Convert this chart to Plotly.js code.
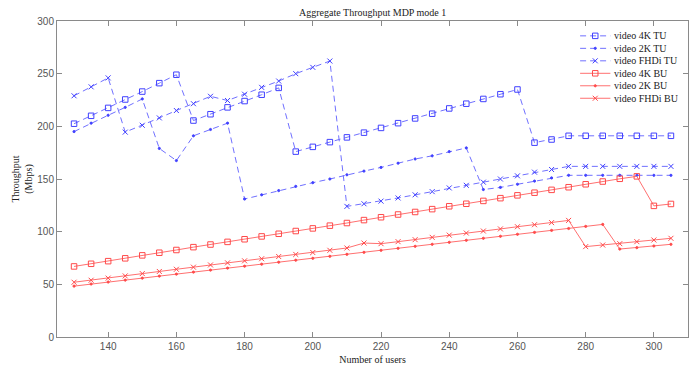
<!DOCTYPE html>
<html>
<head>
<meta charset="utf-8">
<script src="https://cdn.plot.ly/plotly-3.0.1.min.js"></script>
<style>html,body{margin:0;padding:0;background:#fff;}#chart{width:694px;height:367px;}</style>
</head>
<body>
<div id="chart"></div>
<script>
// ---- data ----
var users = [130,135,140,145,150,155,160,165,170,175,180,185,190,195,200,205,210,215,220,225,230,235,240,245,250,255,260,265,270,275,280,285,290,295,300,305];

var video4K_TU = [202.5,210,217.5,225.5,233,241,249,205.5,211.5,218,224,230,236.5,176,180.5,185,189.5,194,198.5,203,207.5,212,217,221.5,226,230.5,235,184.5,187.5,191,191,191,191,191,191,191];
var video2K_TU = [195,203,210.5,218,226,179,167.5,191,197,203,131,135,139,143,146.5,150,154,157.5,161,165,169,172,176,179.5,140,142,145,148,151,153.5,153.5,153.5,153.5,153.5,153.5,153.5];
var videoFHDi_TU = [229,237.5,246,194.5,201,208,215,221.5,228.5,224.5,230.5,237,243,250,256,262,124,126.5,129,132,135,138,141.5,144,147,150,153,156.5,159,162,162,162,162,162,162,162];
var video4K_BU = [67,69.5,72,74.7,77.5,80,82.6,85.3,87.8,90.3,92.8,95.5,98,100.6,103.1,105.7,108.2,111,113.7,116.3,118.7,121.4,124.1,126.5,129.2,131.8,134.5,137,139.7,142.2,145,147.6,150.2,152.5,124.5,126.3];
var video2K_BU = [48.3,50.3,52.2,54,55.9,57.8,59.7,61.6,63.5,65.4,67.2,69.1,71,72.9,74.7,76.6,78.5,80.4,82.3,84.2,86.1,88,89.9,91.8,93.7,95.6,97.5,99.3,101.2,103,105,106.9,83.5,84.8,86.4,88];
var videoFHDi_BU = [52,53.9,55.9,58,60.2,62.2,64.3,66.3,68.4,70.4,72.3,74.3,76.4,78.4,80.2,82.3,84.5,89.2,88.6,90.5,92.4,94.6,96.7,98.7,100.6,102.6,104.7,106.6,108.6,110.7,85.8,87.3,88.6,90.5,92.1,93.7];

var seriesNames = ['video 4K TU','video 2K TU','video FHDi TU','video 4K BU','video 2K BU','video FHDi BU'];
var seriesValues = [video4K_TU, video2K_TU, videoFHDi_TU, video4K_BU, video2K_BU, videoFHDi_BU];
var xTicks = [140,160,180,200,220,240,260,280,300];
var yTicks = [0,50,100,150,200,250,300];

// ---- styles ----
var BLUE_L = '#7070ff', BLUE_M = '#4040ff';
var RED_L = '#ff7070', RED_M = '#ff4a4a';
var DASH = '6px,4px';
var styles = [
  {lc:BLUE_L, mc:BLUE_M, dash:DASH, sym:'square-open', size:5.5},
  {lc:BLUE_L, mc:BLUE_M, dash:DASH, sym:'circle', size:2.2},
  {lc:BLUE_L, mc:BLUE_M, dash:DASH, sym:'x-thin-open', size:5},
  {lc:RED_L, mc:RED_M, dash:'solid', sym:'square-open', size:5.5},
  {lc:RED_L, mc:RED_M, dash:'solid', sym:'circle', size:2.2},
  {lc:RED_L, mc:RED_M, dash:'solid', sym:'x-thin-open', size:5}
];

var traces = [];
seriesValues.forEach(function(vals, i){
  var s = styles[i];
  traces.push({
    type:'scatter', mode:'lines+markers', name:seriesNames[i],
    x:users, y:vals, showlegend:false,
    line:{color:s.lc, width:1, dash:s.dash},
    marker:{symbol:s.sym, size:s.size, color:s.mc, line:{color:s.mc, width:1}}
  });
});

// ---- custom compact legend (drawn on hidden overlay axes in plot-fraction units) ----
var legX0 = 0.829, legX1 = 0.877, legTextX = 0.880;
var legTop = 0.953, legStep = 0.0395;
var annotations = [];
seriesNames.forEach(function(nm, i){
  var s = styles[i];
  var yy = legTop - i*legStep;
  traces.push({
    type:'scatter', mode:'lines+markers', xaxis:'x2', yaxis:'y2', showlegend:false, hoverinfo:'skip',
    x:[legX0, (legX0+legX1)/2, legX1], y:[yy,yy,yy],
    line:{color:s.lc, width:1, dash:s.dash},
    marker:{symbol:s.sym, size:s.size, color:s.mc, opacity:[0,1,0], line:{color:s.mc, width:1}}
  });
  annotations.push({
    xref:'paper', yref:'paper', x:legTextX, y:yy, xanchor:'left', yanchor:'middle',
    text:nm, showarrow:false,
    font:{family:'Liberation Serif, serif', size:10, color:'#222'}
  });
});

var axisCommon = {
  showgrid:false, zeroline:false, showline:true, linecolor:'#8a8a8a', linewidth:1,
  mirror:'ticks', ticks:'inside', ticklen:5, tickcolor:'#8a8a8a', tickwidth:1,
  tickfont:{family:'Liberation Sans, Arial, sans-serif', size:10, color:'#555'}
};

var layout = {
  width:694, height:367,
  margin:{l:57, r:6, t:21, b:30, pad:0},
  paper_bgcolor:'#fff', plot_bgcolor:'#fff',
  showlegend:false,
  title:{text:'Aggregate Throughput MDP mode 1', x:0.537, xanchor:'center', y:0.965, yanchor:'middle',
         font:{family:'Liberation Serif, serif', size:10, color:'#222'}},
  xaxis:Object.assign({}, axisCommon, {
    range:[125,310], tickvals:xTicks, ticktext:xTicks.map(String),
    title:{text:'Number of users', standoff:4, font:{family:'Liberation Serif, serif', size:10, color:'#222'}}
  }),
  yaxis:Object.assign({}, axisCommon, {
    range:[0,300], tickvals:yTicks, ticktext:yTicks.map(String),
    title:{text:'Throughput<br>(Mbps)', standoff:2, font:{family:'Liberation Serif, serif', size:10, color:'#222'}}
  }),
  xaxis2:{overlaying:'x', range:[0,1], visible:false, fixedrange:true},
  yaxis2:{overlaying:'y', range:[0,1], visible:false, fixedrange:true},
  annotations:annotations
};

Plotly.newPlot('chart', traces, layout, {staticPlot:true, displayModeBar:false});
</script>
</body>
</html>
